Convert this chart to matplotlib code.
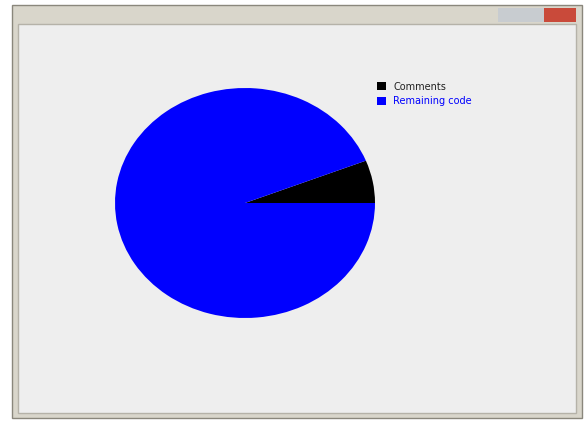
import matplotlib
matplotlib.use("Agg")
import matplotlib.pyplot as plt
from matplotlib.patches import Rectangle

labels = ["Comments", "Remaining code"]
values = [6, 94]
colors = ["#000000", "#0000FF"]

W, H = 585, 423
fig = plt.figure(figsize=(W / 100, H / 100), dpi=100)
fig.patch.set_facecolor("#FFFFFF")

def px(x, y, w, h, **kw):
    fig.patches.append(Rectangle((x / W, 1 - (y + h) / H), w / W, h / H,
                                 transform=fig.transFigure, figure=fig,
                                 zorder=-5, **kw))

# window frame
px(12, 5, 570, 413, facecolor="#D9D6CB", edgecolor="#8A877C", linewidth=1)
px(18, 24, 558, 389, facecolor="#EEEEEE", edgecolor="#B5B2A8", linewidth=1)
px(544, 8, 32, 14, facecolor="#C94A3A", edgecolor="none")
px(498, 8, 46, 14, facecolor="#C8CCD0", edgecolor="none")

ax = fig.add_axes([115 / W, 1 - 318 / H, 260 / W, 230 / H])
ax.set_zorder(5)
ax.set_facecolor("none")
wedges, _ = ax.pie(values, colors=colors, startangle=0, counterclock=True,
                   radius=1.0, wedgeprops=dict(linewidth=0))
ax.set_aspect("auto")
ax.set_xlim(-1.0, 1.0)
ax.set_ylim(-1.0, 1.0)
ax.axis("off")

leg = fig.legend(wedges, labels, loc="upper left",
                 bbox_to_anchor=(368 / W, 1 - 73 / H), frameon=False,
                 fontsize=7, handlelength=0.9, handleheight=0.9,
                 handletextpad=0.8, labelspacing=0.45)
leg.set_zorder(6)
for t, c in zip(leg.get_texts(), colors):
    t.set_color(c if c != "#000000" else "#222222")

fig.savefig("out.png", dpi=100, facecolor=fig.get_facecolor())
